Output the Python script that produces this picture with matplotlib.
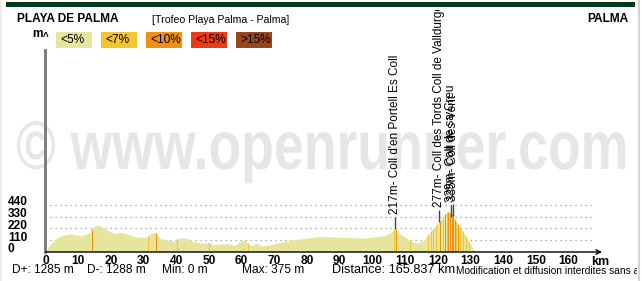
import numpy as np
import matplotlib
matplotlib.use("Agg")
import matplotlib.pyplot as plt
from matplotlib.patches import Polygon, Rectangle, PathPatch
from matplotlib.textpath import TextPath
from matplotlib.font_manager import FontProperties
from matplotlib.transforms import (Bbox, TransformedBbox, Affine2D,
                                   IdentityTransform, blended_transform_factory)

plt.rcParams["font.family"] = ["Liberation Sans", "DejaVu Sans"]

# Data: elevation profile (km, m)
km = [0, 1.5, 3, 4.6, 6, 7.6, 9, 10.7, 12.5, 13.8, 14.4, 15.3, 16.2, 17.4, 18.5,
      19.9, 21.4, 23, 25, 27, 29, 31, 32, 33, 34, 35, 37, 39.8, 40.5, 41.3, 43.4,
      45.3, 48.4, 50.5, 51.5, 53.5, 56.6, 58, 59.6, 61, 62, 63, 64.8, 66.4, 68.8,
      72, 75, 78, 81, 84, 87, 90, 93, 97, 100, 103.4, 105.5, 107, 108.6, 110.7,
      112, 113.8, 115.6, 117.7, 119.9, 120.8, 122.3, 123.3, 124.5, 126, 127.5,
      129, 130.6, 131.2, 133, 135, 138, 140, 145, 150, 155, 160, 165.8]
elev = [0, 62, 110, 140, 155, 165, 158, 147, 160, 175, 215, 240, 248, 230, 210,
        187, 165, 181, 165, 140, 134, 134, 156, 181, 172, 125, 109, 94, 120, 125, 125,
        94, 78, 84, 62, 72, 72, 53, 94, 109, 78, 53, 78, 53, 62,
        84, 109, 115, 131, 140, 140, 134, 131, 125, 134, 147, 172, 217, 165, 125,
        94, 78, 98, 180, 260, 285, 350, 375, 345, 267, 204,
        126, 47, 5, 3, 6, 2, 4, 3, 5, 2, 4, 0]

# slope stripes (km, category index)
stripe_km = [14.3, 31.6, 33.8, 34.1, 40.3, 50.2, 62.1, 106.6, 107.2, 111.6,
             117.0, 118.2, 118.7, 119.6, 120.8, 121.8, 122.4, 122.9, 123.4, 123.9,
             124.4, 124.8, 125.3, 125.8, 126.3, 126.9, 127.8, 128.8, 129.8]
stripe_cat = [2, 1, 2, 2, 1, 1, 1, 1, 2, 1,
              1, 1, 1, 1, 2, 1, 2, 1, 2, 2,
              2, 2, 2, 1, 2, 1, 1, 1, 1]

slope_labels = ["<5%", "<7%", "<10%", "<15%", ">15%"]
slope_colors = ["#e5e59e", "#f5c431", "#f29111", "#ef3b14", "#98471d"]

# named passes
pass_km = [107.0, 120.3, 123.9, 124.6]
pass_elev = [217, 277, 329, 335]
pass_names = ["217m- Coll d'en Portell Es Coll",
              "277m- Coll des Tords Coll de Valldurgent",
              "329m- Coll de sa Creu",
              "335m- Coll des Vent"]

y_ticks = [0, 110, 220, 330, 440]
x_ticks = list(range(0, 170, 10))

W, H = 642, 281


def px(x, y):
    return x / W, 1 - y / H


fig = plt.figure(figsize=(W / 100, H / 100), dpi=100)
fig.patch.set_facecolor("white")

# watermark (stretched a bit vertically, like the original)
tp = TextPath((0, 0), "\u00a9 www.openrunner.com", size=52.8,
              prop=FontProperties(family="Liberation Sans", weight="bold"))
ext = tp.get_extents()
sx = 608 / ext.width
tr = Affine2D().translate(-ext.x0, 0).scale(sx, 1.28 * sx).translate(17, H - 169)
fig.add_artist(PathPatch(tr.transform_path(tp), transform=IdentityTransform(),
                         facecolor="#e6e6e6", lw=0, zorder=-1))

ax = fig.add_axes([45.5 / W, 1 - 252 / H, 556.5 / W, 202 / H])
ax.set_zorder(1)
ax.patch.set_alpha(0)
ax.set_xlim(0, 170.2)
ax.set_ylim(0, 202 / 0.10682)
for s in ["top", "right", "bottom"]:
    ax.spines[s].set_visible(False)
ax.spines["left"].set_color("#777777")
ax.spines["left"].set_linewidth(2)
ax.set_yticks([])
ax.set_xticks(x_ticks)
ax.set_xticklabels([str(t) for t in x_ticks], fontsize=8.6, fontweight="bold")
ax.tick_params(axis="x", length=0, pad=2)

ax.hlines(y_ticks[1:], 1.5, 167.5, colors="#999999", linestyles=(0, (1, 3)), lw=0.9)

poly = Polygon(np.column_stack([km + [km[-1], 0], elev + [0, 0]]), closed=True,
               facecolor=slope_colors[0], edgecolor="none", zorder=2)
ax.add_patch(poly)
bars = ax.bar(stripe_km, [1000] * len(stripe_km), width=0.3,
              color=[slope_colors[c] for c in stripe_cat], lw=0, zorder=3)
for b in bars:
    b.set_clip_path(poly)

ax.annotate("", xy=(170.2, 0), xytext=(0, 0), annotation_clip=False,
            arrowprops=dict(arrowstyle="->", color="black", lw=1,
                            shrinkA=0, shrinkB=0, mutation_scale=8), zorder=5)

clip = TransformedBbox(Bbox([[0, 0], [1, 1 - 10 / H]]), fig.transFigure)
for k, e, n in zip(pass_km, pass_elev, pass_names):
    ax.vlines(k, e, e + 115, colors="#444444", lw=1, zorder=4)
    t = ax.text(k, e + 140, n, rotation=90, ha="center", va="bottom",
                fontsize=8.5, zorder=6)
    t.set_clip_box(clip)
    t.set_clip_on(True)

bt = blended_transform_factory(fig.transFigure, ax.transData)
for v in y_ticks:
    ax.text(8 / W, v + 25, str(v), transform=bt, ha="left", va="center",
            fontsize=8.6, fontweight="bold")

fig.text(*px(600, 262), "km", fontsize=9, fontweight="bold", ha="center", va="center")
fig.text(*px(32, 34), "m", fontsize=8.6, fontweight="bold", ha="left", va="center")
fig.text(*px(45.5, 37), "^", fontsize=7, fontweight="bold", ha="center", va="center")

# header
fig.add_artist(Rectangle(px(6, 7), 629 / W, 5 / H, color="#053a17", lw=0))
fig.text(*px(17, 19.5), "PLAYA DE PALMA", fontsize=8.6, fontweight="bold", va="center")
fig.text(*px(152, 20), "[Trofeo Playa Palma - Palma]", fontsize=7.6, va="center")
fig.text(*px(629, 19.5), "PALMA", fontsize=8.6, fontweight="bold", va="center", ha="right")

box_x = [56, 101, 146, 191, 236]
for bx, lab, col in zip(box_x, slope_labels, slope_colors):
    fig.add_artist(Rectangle(px(bx, 48), 36 / W, 16 / H, color=col, lw=0))
    fig.text(*px(bx + 4, 40), lab, fontsize=8.6, va="center", ha="left")

# footer
fclip = TransformedBbox(Bbox([[0, 0], [637 / W, 1]]), fig.transFigure)
fig.text(*px(12, 270), "D+: 1285 m", fontsize=8.6, va="center")
fig.text(*px(87, 270), "D-: 1288 m", fontsize=8.6, va="center")
fig.text(*px(162, 270), "Min: 0 m", fontsize=8.6, va="center")
fig.text(*px(242, 270), "Max: 375 m", fontsize=8.6, va="center")
fig.text(*px(332, 270), "Distance: 165.837 km", fontsize=9.2, va="center")
ft = fig.text(*px(456, 271), "Modification et diffusion interdites sans autorisation",
              fontsize=7.3, va="center")
ft.set_clip_box(fclip)
ft.set_clip_on(True)

fig.add_artist(plt.Line2D([638.5 / W] * 2, [0, 1], color="#d4d4d4", lw=1.5))
fig.add_artist(plt.Line2D([0.8 / W] * 2, [0, 1], color="#eeeeee", lw=1.5))

fig.savefig("out.png", dpi=100)
